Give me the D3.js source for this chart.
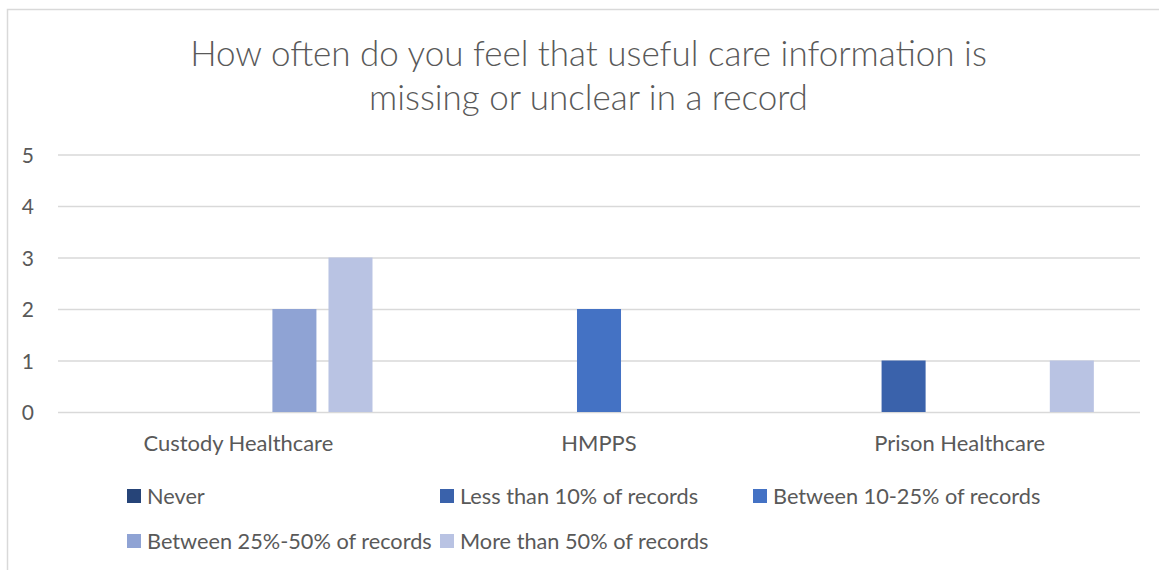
<!DOCTYPE html>
<html>
<head>
<meta charset="utf-8">
<script src="https://cdn.jsdelivr.net/npm/d3@7"></script>
<style>
  html, body { margin: 0; padding: 0; background: #fff; }
  svg { display: block; }
  text { font-family: "Lato", "Open Sans", sans-serif; fill: #595959; }
</style>
</head>
<body>
<svg id="chart" width="1159" height="570"></svg>
<script>
// ---- Data ----
const titleLines = ["How often do you feel that useful care information is", "missing or unclear in a record"];
const categories = ["Custody Healthcare", "HMPPS", "Prison Healthcare"];
const seriesNames = ["Never", "Less than 10% of records", "Between 10-25% of records", "Between 25%-50% of records", "More than 50% of records"];
const never      = [0, 0, 0];
const lessThan10 = [0, 0, 1];
const between10  = [0, 2, 0];
const between25  = [2, 0, 0];
const moreThan50 = [3, 0, 1];
const yTicks = [0, 1, 2, 3, 4, 5];
const seriesColors = ["#264478", "#3A62AB", "#4472C4", "#8FA3D4", "#B9C3E3"];

const seriesValues = [never, lessThan10, between10, between25, moreThan50];

// ---- Layout ----
const svg = d3.select("#chart");
const W = 1159, H = 570;
const plot = { left: 58, right: 1140, top: 154.5, bottom: 412 };

// chart border (cropped at right/bottom)
svg.append("rect").attr("x", 7.5).attr("y", 9.5).attr("width", W + 20).attr("height", H + 20)
  .attr("fill", "none").attr("stroke", "#d9d9d9").attr("stroke-width", 1.5);

function fitSize(sel, target) {
  const w = sel.node().getComputedTextLength();
  const fs = parseFloat(sel.attr("font-size"));
  return fs * target / w;
}

// Title
const title = svg.append("g");
const t1 = title.append("text").attr("x", 588.5).attr("y", 66).attr("text-anchor", "middle")
  .attr("font-size", 32).attr("font-weight", 300).text(titleLines[0]);
const tfs = fitSize(t1, 797);
t1.attr("font-size", tfs);
title.append("text").attr("x", 588.5).attr("y", 110).attr("text-anchor", "middle")
  .attr("font-size", tfs).attr("font-weight", 300).text(titleLines[1]);

// Scales
const x0 = d3.scaleBand().domain(categories).range([plot.left, plot.right]).paddingInner(0).paddingOuter(0);
const bw = x0.bandwidth();
const x1 = d3.scaleBand().domain(seriesNames).range([bw * 0.128, bw * 0.872]).paddingInner(0.215).paddingOuter(0);
const y = d3.scaleLinear().domain([0, 5]).range([plot.bottom, plot.top]);

// Gridlines
svg.append("g").attr("class", "grid")
  .attr("transform", `translate(${plot.left},0)`)
  .call(d3.axisLeft(y).tickValues(yTicks).tickSize(-(plot.right - plot.left)).tickFormat(""))
  .call(g => g.select(".domain").remove())
  .call(g => g.selectAll("line").attr("stroke", "#d9d9d9").attr("stroke-width", 1.3));

// Y axis labels
const yAxis = svg.append("g").attr("transform", `translate(34,0)`)
  .call(d3.axisLeft(y).tickValues(yTicks).tickSize(0).tickPadding(0).tickFormat(d3.format("d")));
yAxis.select(".domain").remove();
yAxis.selectAll("text").attr("font-size", 21).attr("fill", "#595959")
  .style("font-family", '"Lato", "Open Sans", sans-serif').attr("dy", "0.36em");

// Bars
const rows = categories.map((c, i) => ({ cat: c, vals: seriesNames.map((s, j) => ({ s, j, v: seriesValues[j][i] })) }));
const catG = svg.append("g").selectAll("g").data(rows).join("g")
  .attr("transform", d => `translate(${x0(d.cat)},0)`);
catG.selectAll("rect").data(d => d.vals.filter(v => v.v > 0)).join("rect")
  .attr("x", d => x1(d.s)).attr("width", x1.bandwidth())
  .attr("y", d => y(d.v)).attr("height", d => y(0) - y(d.v))
  .attr("fill", d => seriesColors[d.j]);

// X axis labels
const xAxis = svg.append("g").attr("transform", `translate(0,${plot.bottom})`)
  .call(d3.axisBottom(x0).tickSize(0).tickPadding(0));
xAxis.select(".domain").remove();
xAxis.selectAll("text").attr("font-size", 20).attr("fill", "#595959")
  .style("font-family", '"Lato", "Open Sans", sans-serif').attr("dy", 0).attr("y", 39);
const cfs = fitSize(xAxis.select("text"), 190);
xAxis.selectAll("text").attr("font-size", cfs);

// Legend
const legendPos = [[127, 496], [440, 496], [753, 496], [127, 541], [440, 541]];
const leg = svg.append("g").selectAll("g").data(seriesNames).join("g")
  .attr("transform", (d, i) => `translate(${legendPos[i][0]},${legendPos[i][1]})`);
leg.append("rect").attr("x", 0).attr("y", -7).attr("width", 14).attr("height", 14)
  .attr("fill", (d, i) => seriesColors[i]);
const legText = leg.append("text").attr("x", 20).attr("y", 0).attr("dy", "0.36em")
  .attr("font-size", 20).text(d => d);
const lfs = fitSize(d3.select(legText.nodes()[3]), 285);
legText.attr("font-size", lfs);
</script>
</body>
</html>
